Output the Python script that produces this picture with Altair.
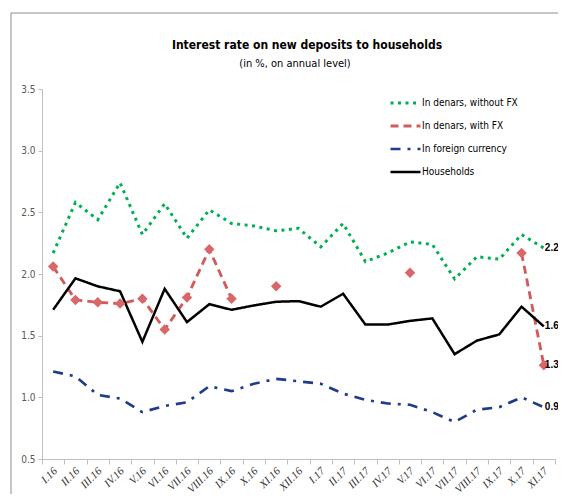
import json
import altair as alt
import pandas as pd

months = ["I.16", "II.16", "III.16", "IV.16", "V.16", "VI.16", "VII.16", "VIII.16", "IX.16",
          "X.16", "XI.16", "XII.16", "I.17", "II.17", "III.17", "IV.17", "V.17", "VI.17",
          "VII.17", "VIII.17", "IX.17", "X.17", "XI.17"]
without_fx = [2.17, 2.58, 2.44, 2.74, 2.32, 2.57, 2.29, 2.52, 2.41, 2.39, 2.35, 2.37,
              2.22, 2.41, 2.10, 2.17, 2.26, 2.24, 1.96, 2.14, 2.12, 2.32, 2.21]
with_fx = [2.06, 1.79, 1.77, 1.76, 1.80, 1.55, 1.81, 2.20, 1.80, None, 1.90, None,
           None, None, None, None, 2.01, None, None, None, None, 2.17, 1.26]
foreign = [1.21, 1.17, 1.02, 0.99, 0.88, 0.93, 0.96, 1.09, 1.05, 1.11, 1.15, 1.13,
           1.11, 1.03, 0.98, 0.95, 0.94, 0.88, 0.80, 0.90, 0.92, 1.00, 0.92]
households = [1.71, 1.965, 1.90, 1.86, 1.45, 1.88, 1.61, 1.755, 1.71, 1.745, 1.775, 1.78,
              1.735, 1.84, 1.59, 1.59, 1.62, 1.64, 1.35, 1.46, 1.51, 1.735, 1.575]

series_names = ["In denars, without FX", "In denars, with FX", "In foreign currency", "Households"]
series_vals = [without_fx, with_fx, foreign, households]
colors = ["#00b050", "#d25a5a", "#1f3c88", "#000000"]
dashes = [[3, 4.5], [8, 5], [10, 7, 3, 7], [1, 0]]
widths = [3, 2.5, 3, 3.5]

title_text = "Interest rate on new deposits to households"
subtitle_text = "(in %, on annual level)"

rows = []
for name, vals in zip(series_names, series_vals):
    for i, v in enumerate(vals):
        rows.append({"idx": i, "value": v, "series": name})
df = pd.DataFrame(rows)

red_pts = df[(df.series == "In denars, with FX") & df.value.notna()]

end_df = pd.DataFrame({
    "idx": [len(months) - 1] * 4,
    "value": [v[-1] for v in series_vals],
    "series": series_names,
})

NARROW = "Liberation Sans Narrow, Arial Narrow, DejaVu Sans Condensed, Roboto, sans-serif"
band = 513 / 23.0
label_expr = json.dumps(months) + "[datum.value + 0.5] || ''"

x_enc = alt.X(
    "idx:Q",
    scale=alt.Scale(domain=[-0.5, 22.5], nice=False, zero=False),
    axis=alt.Axis(
        values=[i - 0.5 for i in range(24)],
        labelExpr=label_expr,
        title=None,
        grid=False,
        domainColor="#bfbfbf",
        tickColor="#bfbfbf",
        tickSize=5,
        labelAngle=-45,
        labelAlign="right",
        labelBaseline="middle",
        labelPadding=5,
        labelOffset=band / 2 + 2,
        labelFont="Liberation Serif",
        labelFontStyle="italic",
        labelFontSize=11,
        labelColor="#333333",
        labelOverlap=False,
        labelFlush=False,
        labelBound=False,
    ),
)
y_enc = alt.Y(
    "value:Q",
    scale=alt.Scale(domain=[0.5, 3.5], nice=False, zero=False),
    axis=alt.Axis(
        values=[0.5, 1.0, 1.5, 2.0, 2.5, 3.0, 3.5],
        format=".1f",
        title=None,
        grid=False,
        domainColor="#bfbfbf",
        tickColor="#bfbfbf",
        tickSize=4,
        labelFont=NARROW,
        labelFontSize=10,
        labelColor="#595959",
        labelPadding=3,
    ),
)

legend_kw = dict(
    title=None,
    orient="none",
    legendX=347,
    legendY=6,
    symbolType="stroke",
    symbolSize=900,
    symbolStrokeWidth=3,
    clipHeight=16,
    rowPadding=7,
    labelOffset=0,
    labelFont=NARROW,
    labelFontSize=10,
    labelColor="#000000",
)

lines = alt.Chart(df).mark_line().encode(
    x=x_enc,
    y=y_enc,
    color=alt.Color(
        "series:N",
        sort=series_names,
        scale=alt.Scale(domain=series_names, range=colors),
        legend=alt.Legend(**legend_kw),
    ),
    strokeDash=alt.StrokeDash(
        "series:N",
        sort=series_names,
        scale=alt.Scale(domain=series_names, range=dashes),
        legend=alt.Legend(**legend_kw),
    ),
    strokeWidth=alt.StrokeWidth(
        "series:N",
        scale=alt.Scale(domain=series_names, range=widths),
        legend=None,
    ),
    order=alt.Order("idx:Q"),
)

points = alt.Chart(red_pts).mark_point(
    shape="diamond", filled=True, size=110, opacity=1, color="#d9676a"
).encode(x=x_enc, y=y_enc)

end_labels = alt.Chart(end_df).mark_text(
    align="left", baseline="middle", dx=1, fontWeight="bold", fontSize=10,
    font="Liberation Sans", color="#000000"
).encode(x=x_enc, y=y_enc, text=alt.Text("value:Q", format=".1f"))

frame_df = pd.DataFrame({"k": [0]})
frame_v = alt.Chart(frame_df).mark_rule(color="#8c8c8c", strokeWidth=1).encode(
    x=alt.value(-31), y=alt.value(-76), y2=alt.value(430)
)
frame_h = alt.Chart(frame_df).mark_rule(color="#8c8c8c", strokeWidth=1).encode(
    x=alt.value(-31), x2=alt.value(560), y=alt.value(-76)
)

title_df = pd.DataFrame({"t": [title_text]})
subtitle_df = pd.DataFrame({"t": [subtitle_text]})
title_mark = alt.Chart(title_df).mark_text(
    font=NARROW, fontSize=12, fontWeight="bold", color="#000000",
    align="center", baseline="middle"
).encode(text="t:N", x=alt.value(265), y=alt.value(-44))
subtitle_mark = alt.Chart(subtitle_df).mark_text(
    font=NARROW, fontSize=11, color="#000000", align="center", baseline="middle"
).encode(text="t:N", x=alt.value(253), y=alt.value(-25))

chart = alt.layer(
    frame_v, frame_h, title_mark, subtitle_mark, lines, points, end_labels
).properties(
    width=513,
    height=370,
    autosize=alt.AutoSizeParams(type="none"),
    padding={"left": 34, "top": 81, "right": 3, "bottom": 35},
).configure(background="white").configure_view(stroke=None)

chart.save("out.html", embed_options={"renderer": "svg", "actions": False})
